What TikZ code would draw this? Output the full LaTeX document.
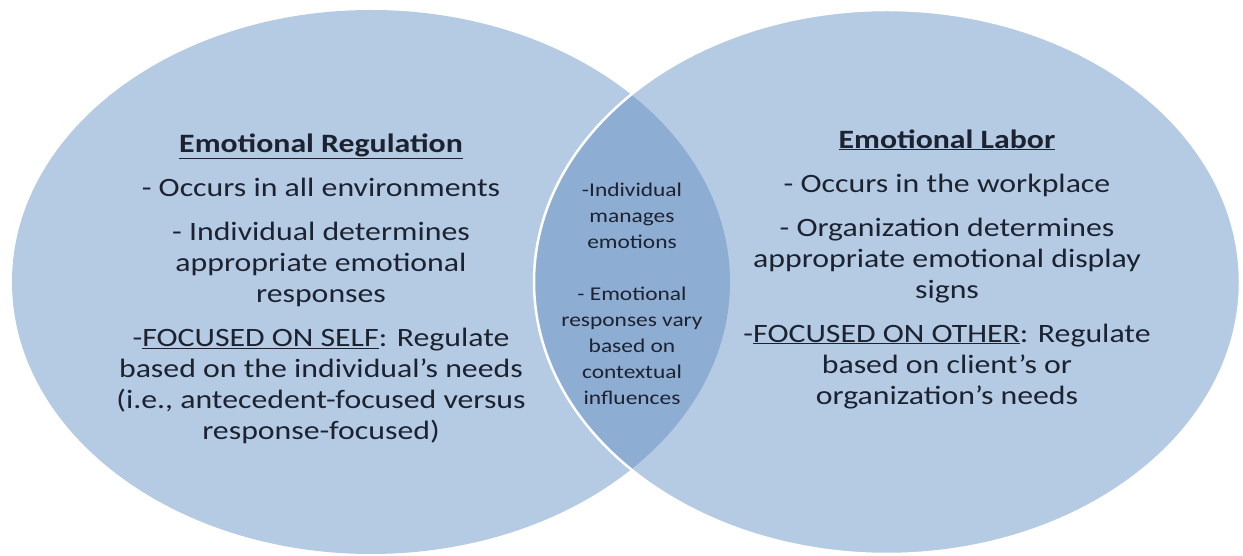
\documentclass[tikz,border=0pt]{standalone}
\usepackage{fontspec}
\setmainfont{Carlito}[FakeStretch=1.2]
\usepackage{tikz}
\usetikzlibrary{positioning}

\definecolor{vennblue}{RGB}{180,203,227}
\definecolor{lensblue}{RGB}{142,173,211}
\definecolor{inkblue}{RGB}{28,34,48}

\begin{document}
\begin{tikzpicture}
[
    x=1pt, y=1pt,
    sidetext/.style={
        text=inkblue,
        align=center,
        font=\fontsize{26.5}{31}\selectfont,
    },
    lenstext/.style={
        text=inkblue,
        align=center,
        font=\fontsize{19.5}{26}\selectfont,
    },
]
\useasboundingbox (0,0) rectangle (1243,556);

% The two sets and their overlap
\fill[vennblue] (371,274) ellipse [x radius=359, y radius=272];
\fill[vennblue] (887,274) ellipse [x radius=353, y radius=272];
\begin{scope}
    \clip (371,274) ellipse [x radius=359, y radius=272];
    \fill[lensblue] (887,274) ellipse [x radius=353, y radius=272];
\end{scope}
\draw[white, line width=2.5pt] (887,274) ellipse [x radius=353, y radius=272];

% Define the nodes
\node[sidetext] (regulation) at (321,267) {%
    \underline{\textbf{Emotional Regulation}}\\[13pt]
    - Occurs in all environments\\[13pt]
    - Individual determines\\
    appropriate emotional\\
    responses\\[13pt]
    -\underline{FOCUSED ON SELF}: Regulate\\
    based on the individual’s needs\\
    (i.e., antecedent-focused versus\\
    response-focused)};

\node[sidetext] (labor) at (947,287) {%
    \underline{\textbf{Emotional Labor}}\\[13pt]
    - Occurs in the workplace\\[13pt]
    - Organization determines\\
    appropriate emotional display\\
    signs\\[13pt]
    -\underline{FOCUSED ON OTHER}: Regulate\\
    based on client’s or\\
    organization’s needs};

\node[lenstext] (shared) at (632,262) {%
    -Individual\\
    manages\\
    emotions\\[26pt]
    - Emotional\\
    responses vary\\
    based on\\
    contextual\\
    influences};

\end{tikzpicture}
\end{document}
